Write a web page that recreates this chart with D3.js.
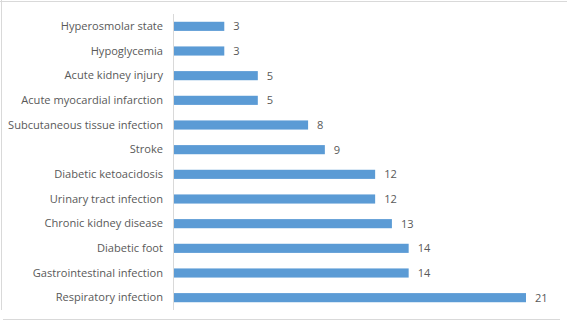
<!DOCTYPE html>
<html>
<head>
<meta charset="utf-8">
<script src="https://cdn.jsdelivr.net/npm/d3@7"></script>
<style>
  html, body { margin: 0; padding: 0; background: #fff; }
  svg { display: block; }
  text { font-family: "Open Sans", "Liberation Sans", sans-serif; fill: #595959; }
</style>
</head>
<body>
<svg id="chart" width="567" height="327"></svg>
<script>
// Hospital admission causes and their counts
const categories = [
  "Hyperosmolar state",
  "Hypoglycemia",
  "Acute kidney injury",
  "Acute myocardial infarction",
  "Subcutaneous tissue infection",
  "Stroke",
  "Diabetic ketoacidosis",
  "Urinary tract infection",
  "Chronic kidney disease",
  "Diabetic foot",
  "Gastrointestinal infection",
  "Respiratory infection"
];
const counts = [3, 3, 5, 5, 8, 9, 12, 12, 13, 14, 14, 21];

const svg = d3.select("#chart");
const W = 567, H = 327;

// chart frame
const frame = svg.append("g").attr("stroke", "#d9d9d9").attr("stroke-width", 1);
frame.append("line").attr("x1", 0).attr("x2", W).attr("y1", 1.5).attr("y2", 1.5);
frame.append("line").attr("x1", 1.5).attr("x2", 1.5).attr("y1", 0).attr("y2", 310);
frame.append("line").attr("x1", 3).attr("x2", 560).attr("y1", 319.5).attr("y2", 319.5);

const x = d3.scaleLinear().domain([0, 21]).range([174, 526]);
const y = d3.scaleBand().domain(categories).range([14, 310]).paddingInner(0.63).paddingOuter(0.315);

// bars
svg.append("g").selectAll("rect")
  .data(categories)
  .join("rect")
  .attr("x", x(0))
  .attr("y", d => y(d))
  .attr("width", (d, i) => x(counts[i]) - x(0))
  .attr("height", y.bandwidth())
  .attr("fill", "#5b9bd5");

// category axis
const axis = svg.append("g")
  .attr("transform", `translate(${x(0) - 0.5},0)`)
  .call(d3.axisLeft(y).tickSize(0).tickPadding(10.5));
axis.select(".domain").attr("stroke", "#d9d9d9").attr("d", "M0,14V310");
axis.selectAll("text")
  .attr("font-size", "11.1px")
  .attr("fill", "#595959")
  .style("font-family", "'Open Sans', 'Liberation Sans', sans-serif");

// value labels
svg.append("g").selectAll("text")
  .data(categories)
  .join("text")
  .attr("x", (d, i) => x(counts[i]) + 9)
  .attr("y", d => y(d) + y.bandwidth() / 2)
  .attr("dy", "0.35em")
  .attr("font-size", "11.1px")
  .text((d, i) => counts[i]);
</script>
</body>
</html>
